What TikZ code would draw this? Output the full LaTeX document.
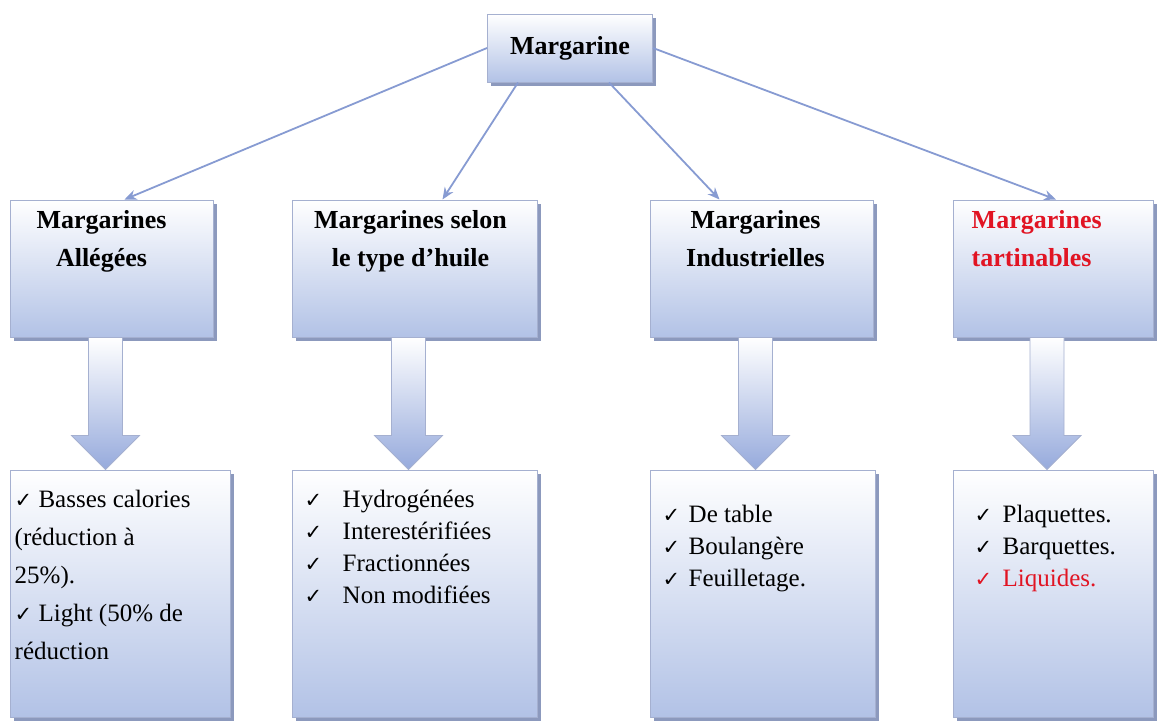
\documentclass[tikz,border=0pt]{standalone}
\usepackage{fontspec}
\setmainfont{Liberation Serif}
\newfontfamily\symfont{DejaVu Sans}
\usetikzlibrary{arrows.meta,shapes,positioning,shadows,calc}

\definecolor{boxblue}{RGB}{178,194,230}
\definecolor{boxline}{RGB}{165,176,208}
\definecolor{shadowblue}{RGB}{120,135,178}
\definecolor{linkblue}{RGB}{135,155,210}
\definecolor{arrowblue}{RGB}{150,170,220}
\definecolor{titlered}{RGB}{225,20,35}

\newcommand{\chk}{{\symfont\fontsize{21}{21}\selectfont ✓}}
\newcommand{\blockarrow}[2]{%
  \path[bigarrow] let \p1=($(#1.south)+(-6pt,0)$), \p2=(#2.north) in
    (\x1-17pt,\y1) -- (\x1+17pt,\y1) -- (\x1+17pt,\y2+34pt) -- (\x1+34pt,\y2+34pt)
    -- (\x1,\y2) -- (\x1-34pt,\y2+34pt) -- (\x1-17pt,\y2+34pt) -- cycle;}

\tikzset{
  catbox/.style={draw=boxline, line width=1pt, top color=white, bottom color=boxblue,
    drop shadow={shadow xshift=3.5pt, shadow yshift=-3.5pt, fill=shadowblue, opacity=0.85}, inner sep=0pt},
  titletxt/.style={font=\fontsize{26}{38}\selectfont\bfseries, align=center, inner sep=0pt},
  listtxt/.style={font=\fontsize{25}{32}\selectfont, align=left, inner sep=0pt},
  link/.style={draw=linkblue, line width=1.8pt, -{Stealth[length=12pt,width=10pt]}},
  bigarrow/.style={draw=boxline, line width=0.8pt, top color=white, bottom color=arrowblue}
}

\begin{document}
\begin{tikzpicture}[x=1pt, y=-1pt]
\useasboundingbox (0,0) rectangle (1158,724);

% Top
\node[catbox, titletxt, minimum width=165pt, minimum height=68pt] (marg) at (570,48) {Margarine};

% Categories
\node[catbox, minimum width=203pt, minimum height=137pt] (allegees) at (111.5,268.5) {};
\node[catbox, minimum width=245pt, minimum height=137pt] (huile) at (414.5,268.5) {};
\node[catbox, minimum width=223pt, minimum height=137pt] (indus) at (761.5,268.5) {};
\node[catbox, minimum width=200pt, minimum height=137pt] (tartin) at (1053,268.5) {};

\node[titletxt, below=11pt of allegees.north, xshift=-10pt] (allegees-t) {Margarines\\Allégées};
\node[titletxt, below=11pt of huile.north, xshift=-4pt] (huile-t) {Margarines selon\\le type d’huile};
\node[titletxt, below=11pt of indus.north, xshift=-6pt] (indus-t) {Margarines\\Industrielles};
\node[titletxt, titlered, align=left, below right=11pt and 19pt of tartin.north west] (tartin-t) {Margarines\\tartinables};

% Details
\node[catbox, minimum width=220pt, minimum height=247pt] (allegees-l) at (120,593.5) {};
\node[catbox, minimum width=245pt, minimum height=247pt] (huile-l) at (414.5,593.5) {};
\node[catbox, minimum width=225pt, minimum height=247pt] (indus-l) at (762.5,593.5) {};
\node[catbox, minimum width=200pt, minimum height=247pt] (tartin-l) at (1053,593.5) {};

\node[listtxt, font=\fontsize{25}{38}\selectfont, below right=20pt and 5pt of allegees-l.north west] (allegees-x)
  {\chk\ Basses calories\\(réduction à\\25\%).\\\chk\ Light (50\% de\\réduction};
\node[listtxt, below right=20pt and 13pt of huile-l.north west] (huile-x)
  {\makebox[38pt][l]{\chk}Hydrogénées\\\makebox[38pt][l]{\chk}Interestérifiées\\
   \makebox[38pt][l]{\chk}Fractionnées\\\makebox[38pt][l]{\chk}Non modifiées};
\node[listtxt, below right=35pt and 13pt of indus-l.north west] (indus-x)
  {\makebox[26pt][l]{\chk}De table\\\makebox[26pt][l]{\chk}Boulangère\\\makebox[26pt][l]{\chk}Feuilletage.};
\node[listtxt, below right=35pt and 22pt of tartin-l.north west] (tartin-x)
  {\makebox[28pt][l]{\chk}Plaquettes.\\\makebox[28pt][l]{\chk}Barquettes.\\
   \textcolor{titlered}{\makebox[28pt][l]{\chk}Liquides.}};

% Links
\draw[link] (marg.west) -- ([xshift=13pt]allegees.north);
\draw[link] ([xshift=-52pt]marg.south) -- ([xshift=28pt]huile.north);
\draw[link] ([xshift=39pt]marg.south) -- ([xshift=-42pt]indus.north);
\draw[link] (marg.east) -- ([xshift=3pt]tartin.north);

% Block arrows
\foreach \a/\b in {allegees/allegees-l, huile/huile-l, indus/indus-l, tartin/tartin-l}
  \blockarrow{\a}{\b};
\end{tikzpicture}
\end{document}
